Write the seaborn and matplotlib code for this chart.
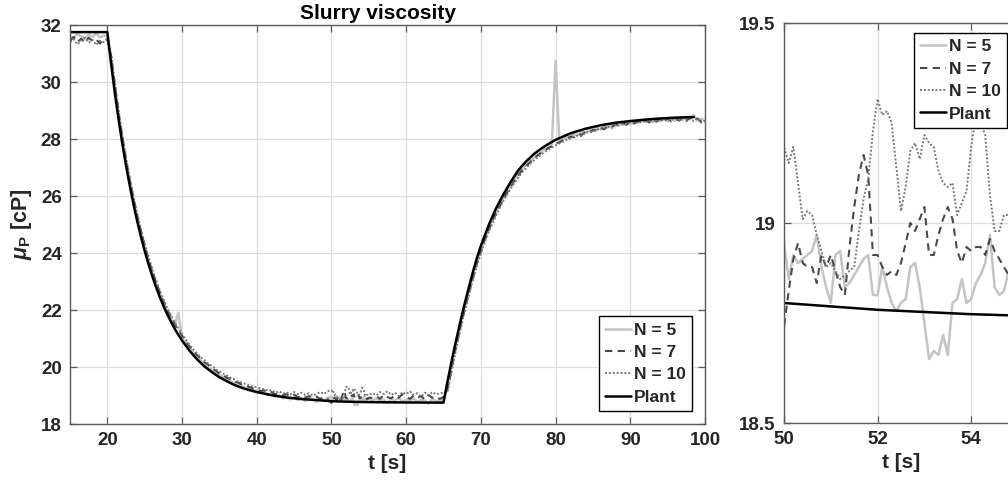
import numpy as np
import matplotlib
matplotlib.use("Agg")
import matplotlib.pyplot as plt
import seaborn as sns

# ---------------- data ----------------
# time grid: coarse before the zoom window, fine inside it, coarse after
t_a = np.linspace(15.0, 49.5, 70)
t_b = np.linspace(50.0, 55.0, 51)
t_c = np.linspace(55.5, 100.0, 90)

n5_a = [31.62, 31.55, 31.68, 31.60, 31.52, 31.66, 31.58, 31.70, 31.57, 31.63,
        31.60, 30.85, 29.80, 28.85, 28.00, 27.20, 26.52, 25.85, 25.25, 24.70,
        24.18, 23.75, 23.30, 22.95, 22.56, 22.28, 21.95, 21.70, 21.45, 21.90,
        21.00, 20.84, 20.66, 20.50, 20.38, 20.22, 20.12, 19.98, 19.90, 19.80,
        19.72, 19.64, 19.58, 19.50, 19.44, 19.36, 19.34, 19.26, 19.26, 19.18,
        19.18, 19.10, 19.12, 19.02, 19.06, 18.96, 19.00, 18.90, 18.96, 18.86,
        18.95, 18.84, 18.92, 18.80, 18.90, 18.86, 18.78, 18.90, 18.84, 18.92]
n5_b = [18.95, 18.86, 18.92, 18.90, 18.91, 18.92, 18.93, 18.97, 18.89, 18.84,
        18.80, 18.92, 18.93, 18.84, 18.85, 18.87, 18.89, 18.91, 18.92, 18.82,
        18.82, 18.89, 18.84, 18.80, 18.78, 18.80, 18.81, 18.89, 18.90, 18.84,
        18.75, 18.66, 18.68, 18.67, 18.72, 18.67, 18.80, 18.81, 18.86, 18.80,
        18.81, 18.85, 18.87, 18.90, 18.97, 18.84, 18.82, 18.83, 18.88, 18.90,
        18.89]
n5_c = [18.82, 18.90, 18.80, 18.86, 18.74, 18.88, 18.82, 18.92, 18.78, 18.85,
        18.80, 18.90, 18.76, 18.86, 18.82, 18.72, 18.88, 18.80, 18.84, 18.82,
        19.30, 19.98, 20.62, 21.18, 21.76, 22.28, 22.80, 23.28, 23.74, 24.12,
        24.50, 24.84, 25.14, 25.44, 25.70, 25.94, 26.18, 26.38, 26.60, 26.78,
        26.95, 27.08, 27.22, 27.32, 27.45, 27.52, 27.64, 27.70, 27.80, 30.75,
        27.92, 27.98, 28.06, 28.10, 28.16, 28.14, 28.24, 28.22, 28.32, 28.28,
        28.38, 28.35, 28.44, 28.40, 28.48, 28.45, 28.54, 28.50, 28.60, 28.54,
        28.62, 28.56, 28.66, 28.60, 28.68, 28.58, 28.72, 28.62, 28.70, 28.62,
        28.74, 28.64, 28.72, 28.66, 28.78, 28.68, 28.84, 28.64, 28.72, 28.62]

n7_a = [31.45, 31.58, 31.40, 31.52, 31.38, 31.55, 31.45, 31.50, 31.35, 31.52,
        31.48, 30.92, 29.90, 28.92, 28.06, 27.26, 26.56, 25.90, 25.30, 24.76,
        24.24, 23.78, 23.38, 22.98, 22.64, 22.30, 22.02, 21.76, 21.52, 21.28,
        21.10, 20.90, 20.72, 20.58, 20.42, 20.30, 20.16, 20.08, 19.94, 19.88,
        19.76, 19.72, 19.62, 19.58, 19.48, 19.46, 19.38, 19.34, 19.30, 19.24,
        19.24, 19.16, 19.18, 19.10, 19.12, 19.04, 19.08, 19.00, 19.05, 18.97,
        19.03, 18.94, 19.00, 18.92, 18.98, 18.91, 18.96, 18.88, 18.94, 18.87]
n7_b = [18.74, 18.83, 18.91, 18.95, 18.90, 18.89, 18.89, 18.85, 18.92, 18.89,
        18.92, 18.88, 18.84, 18.82, 18.94, 19.04, 19.12, 19.17, 19.12, 18.92,
        18.92, 18.89, 18.87, 18.88, 18.87, 18.90, 18.95, 19.00, 18.98, 19.01,
        19.04, 18.92, 18.92, 18.97, 19.01, 19.04, 19.01, 18.93, 18.90, 18.94,
        18.93, 18.94, 18.94, 18.92, 18.96, 18.93, 18.91, 18.89, 18.87, 18.90,
        18.92]
n7_c = [18.92, 18.98, 18.88, 19.02, 18.94, 18.90, 19.00, 18.92, 19.05, 18.95,
        18.88, 19.00, 18.92, 18.98, 18.86, 19.02, 18.92, 18.96, 18.88, 18.95,
        19.18, 19.85, 20.50, 21.10, 21.68, 22.20, 22.72, 23.20, 23.66, 24.06,
        24.44, 24.78, 25.08, 25.38, 25.64, 25.88, 26.12, 26.32, 26.54, 26.72,
        26.90, 27.04, 27.16, 27.30, 27.40, 27.50, 27.58, 27.68, 27.74, 27.84,
        27.88, 27.96, 28.00, 28.08, 28.06, 28.18, 28.14, 28.26, 28.22, 28.32,
        28.30, 28.40, 28.34, 28.46, 28.42, 28.52, 28.46, 28.56, 28.50, 28.60,
        28.54, 28.63, 28.57, 28.66, 28.58, 28.68, 28.61, 28.70, 28.63, 28.72,
        28.62, 28.74, 28.65, 28.72, 28.63, 28.76, 28.66, 28.72, 28.60, 28.67]

n10_a = [31.40, 31.50, 31.32, 31.45, 31.55, 31.38, 31.48, 31.30, 31.45, 31.40,
         31.50, 31.00, 30.02, 29.02, 28.16, 27.36, 26.64, 25.98, 25.40, 24.84,
         24.34, 23.88, 23.45, 23.06, 22.70, 22.38, 22.08, 21.82, 21.58, 21.35,
         21.15, 20.96, 20.78, 20.62, 20.48, 20.34, 20.24, 20.12, 20.04, 19.92,
         19.85, 19.76, 19.70, 19.62, 19.57, 19.48, 19.46, 19.40, 19.37, 19.30,
         19.30, 19.24, 19.22, 19.17, 19.19, 19.10, 19.15, 19.06, 19.11, 19.04,
         19.12, 19.05, 19.10, 19.02, 19.08, 19.00, 19.06, 19.12, 19.05, 19.15]
n10_b = [19.19, 19.15, 19.19, 19.10, 19.01, 19.03, 19.02, 18.97, 18.93, 18.89,
         18.90, 18.88, 18.86, 18.87, 18.88, 18.89, 18.98, 19.06, 19.11, 19.23,
         19.31, 19.27, 19.28, 19.25, 19.14, 19.03, 19.09, 19.18, 19.20, 19.16,
         19.22, 19.20, 19.19, 19.13, 19.10, 19.09, 19.10, 19.02, 19.05, 19.08,
         19.19, 19.27, 19.25, 19.22, 19.07, 18.98, 18.98, 19.02, 19.02, 19.04,
         19.03]
n10_c = [19.08, 19.00, 19.12, 19.05, 19.15, 19.02, 19.10, 18.98, 19.12, 19.05,
         19.15, 19.02, 19.08, 18.96, 19.10, 19.00, 19.12, 19.04, 19.08, 19.10,
         19.10, 19.72, 20.38, 21.00, 21.58, 22.10, 22.62, 23.12, 23.58, 23.98,
         24.36, 24.70, 25.00, 25.30, 25.56, 25.82, 26.04, 26.26, 26.46, 26.64,
         26.82, 26.96, 27.10, 27.22, 27.34, 27.44, 27.54, 27.62, 27.70, 27.78,
         27.84, 27.90, 27.98, 28.02, 28.10, 28.12, 28.10, 28.22, 28.25, 28.24,
         28.34, 28.32, 28.40, 28.44, 28.38, 28.50, 28.47, 28.54, 28.52, 28.58,
         28.56, 28.62, 28.57, 28.64, 28.60, 28.66, 28.62, 28.68, 28.64, 28.70,
         28.66, 28.72, 28.64, 28.74, 28.68, 28.72, 28.62, 28.74, 28.57, 28.64]

plant_t = [15, 20, 20.5, 21, 21.5, 22, 22.5, 23, 23.5, 24, 24.5, 25, 25.5, 26,
           26.5, 27, 27.5, 28, 28.5, 29, 29.5, 30, 31, 32, 33, 34, 35, 36, 37,
           38, 39, 40, 42, 44, 46, 48, 50, 52, 54, 56, 58, 60, 62, 65, 65.5,
           66, 66.5, 67, 67.5, 68, 68.5, 69, 69.5, 70, 71, 72, 73, 74, 75, 76,
           77, 78, 79, 80, 82, 84, 86, 88, 90, 92, 94, 96, 98.5]
plant_v = [31.75, 31.75, 30.64, 29.62, 28.69, 27.84, 27.07, 26.36, 25.71, 25.11,
           24.57, 24.07, 23.62, 23.20, 22.82, 22.47, 22.15, 21.86, 21.60, 21.35,
           21.13, 20.93, 20.57, 20.27, 20.02, 19.82, 19.64, 19.50, 19.37, 19.27,
           19.19, 19.12, 19.01, 18.93, 18.875, 18.84, 18.80, 18.783, 18.772,
           18.765, 18.76, 18.756, 18.753, 18.75, 19.45, 20.10, 20.72, 21.30,
           21.87, 22.40, 22.90, 23.40, 23.85, 24.25, 24.95, 25.55, 26.05, 26.50,
           26.90, 27.20, 27.45, 27.65, 27.82, 27.97, 28.20, 28.36, 28.48, 28.57,
           28.63, 28.68, 28.72, 28.75, 28.77]

labels = ["N = 5", "N = 7", "N = 10", "Plant"]
title = "Slurry viscosity"

t_all = np.concatenate([t_a, t_b, t_c])
n5 = np.array(n5_a + n5_b + n5_c)
n7 = np.array(n7_a + n7_b + n7_c)
n10 = np.array(n10_a + n10_b + n10_c)

# ---------------- style ----------------
sns.set_style("ticks")
plt.rcParams.update({
    "font.family": ["Liberation Sans", "DejaVu Sans"],
    "font.weight": "bold",
    "axes.labelweight": "bold",
    "axes.titleweight": "bold",
    "mathtext.fontset": "custom",
    "mathtext.rm": "Liberation Sans:bold",
    "mathtext.it": "Liberation Sans:italic:bold",
    "mathtext.bf": "Liberation Sans:bold",
})

fig = plt.figure(figsize=(10.08, 4.90), dpi=100)
W, H = 1008, 490
ax1 = fig.add_axes([70 / W, 1 - 424 / H, 635 / W, 399 / H])
ax2 = fig.add_axes([784 / W, 1 - 423 / H, 234 / W, 400 / H])

styles = [
    dict(color="#c4c4c4", lw=1.8, ls="-"),
    dict(color="#4a4a4a", lw=1.5, ls=(0, (3.5, 2.6))),
    dict(color="#7a7a7a", lw=1.4, ls=(0, (1.0, 1.0))),
    dict(color="#000000", lw=1.8, ls="-"),
]

for ax in (ax1, ax2):
    for (x, y), lab, st in zip([(t_all, n5), (t_all, n7), (t_all, n10),
                                (np.array(plant_t, float), np.array(plant_v))],
                               labels, styles):
        sns.lineplot(x=x, y=y, ax=ax, color=st["color"], linewidth=st["lw"],
                     linestyle=st["ls"], label=lab, estimator=None, sort=False)
    ax.grid(True, color="#dedede", lw=0.9)
    ax.set_axisbelow(True)
    for sp in ax.spines.values():
        sp.set_visible(True)
        sp.set_color("#5a5a5a")
        sp.set_linewidth(1.0)
    ax.tick_params(direction="in", top=True, right=True, length=5, width=0.9,
                   color="#5a5a5a", labelcolor="#262626", labelsize=13.5, pad=6)
    for lbl in ax.get_xticklabels() + ax.get_yticklabels():
        lbl.set_fontweight("bold")
    ax.set_xlabel("t [s]", fontsize=15, color="#262626", labelpad=3)

ax1.set_xlim(15, 100)
ax1.set_ylim(18, 32)
ax1.set_xticks([20, 30, 40, 50, 60, 70, 80, 90, 100])
ax1.set_yticks([18, 20, 22, 24, 26, 28, 30, 32])
ax1.set_ylabel(r"$\mu_\mathbf{P}$ [cP]", fontsize=15.5, color="#262626", labelpad=5)
ax1.set_title(title, fontsize=15, color="#000000", x=0.485, pad=4)

ax2.set_xlim(50, 55)
ax2.set_ylim(18.5, 19.5)
ax2.set_xticks([50, 52, 54])
ax2.set_yticks([18.5, 19.0, 19.5])
ax2.set_yticklabels(["18.5", "19", "19.5"])
ax2.set_ylabel("")

leg_kw = dict(fontsize=12.5, frameon=True, fancybox=False, framealpha=1,
              edgecolor="#000000", handlelength=1.45, handletextpad=0.2,
              borderpad=0.35, labelspacing=0.42, borderaxespad=0)
leg1 = ax1.legend(loc="lower right", bbox_to_anchor=(692 / W, 1 - 411 / H),
                  bbox_transform=fig.transFigure, **leg_kw)
leg2 = ax2.legend(loc="upper right", bbox_to_anchor=(1007 / W, 1 - 33 / H),
                  bbox_transform=fig.transFigure, **leg_kw)
for leg in (leg1, leg2):
    leg.get_frame().set_linewidth(1.0)
    for txt in leg.get_texts():
        txt.set_fontweight("bold")

fig.savefig("out.png", dpi=100)
